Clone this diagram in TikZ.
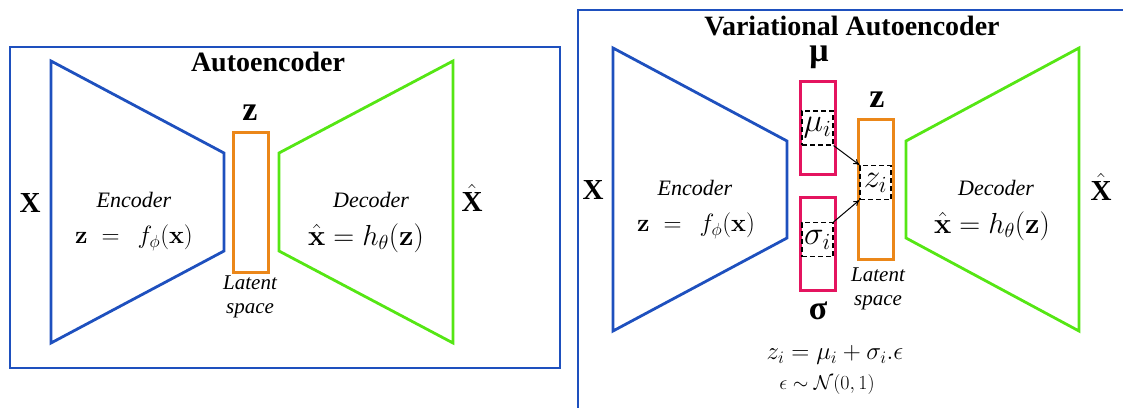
\RequirePackage{fix-cm}
\documentclass[tikz,border=0pt]{standalone}
\usepackage{amsmath}
\usepackage[no-math]{fontspec}
\setmainfont{Liberation Serif}
\usetikzlibrary{arrows.meta}
\definecolor{aeblue}{RGB}{30,80,190}
\definecolor{aegreen}{RGB}{85,230,20}
\definecolor{aeorange}{RGB}{235,135,25}
\definecolor{aepink}{RGB}{228,20,95}
\begin{document}
\begin{tikzpicture}[x=1pt,y=-1pt,
  frame/.style={draw=aeblue,line width=2.8pt},
  encpath/.style={draw=aeblue,line width=2.8pt,line join=miter},
  decpath/.style={draw=aegreen,line width=2.8pt,line join=miter},
  latentbox/.style={draw=aeorange,line width=3pt,minimum width=35pt,minimum height=140pt,inner sep=0pt},
  parambox/.style={draw=aepink,line width=3.2pt,minimum width=35pt,minimum height=93pt,inner sep=0pt},
  dashbox/.style={draw=black,dashed,dash pattern=on 5pt off 3pt,line width=1.1pt,minimum width=31pt,minimum height=34pt,inner sep=0pt,font=\fontsize{33}{35}\selectfont},
  titletext/.style={font=\bfseries\fontsize{28}{30}\selectfont,inner sep=0pt},
  sidelabel/.style={font=\bfseries\fontsize{29}{30}\selectfont,inner sep=0pt},
  greeklabel/.style={font=\bfseries\fontsize{34}{36}\selectfont,inner sep=0pt},
  zlabel/.style={font=\bfseries\fontsize{34}{36}\selectfont,inner sep=0pt},
  itlabel/.style={font=\itshape\fontsize{22}{24}\selectfont,inner sep=0pt},
  latentlabel/.style={font=\itshape\fontsize{21}{24}\selectfont,align=center,inner sep=0pt},
  encformula/.style={font=\fontsize{25}{28}\selectfont,inner sep=0pt},
  decformula/.style={font=\fontsize{29}{31}\selectfont,inner sep=0pt},
  bigformula/.style={font=\fontsize{25}{27}\selectfont,inner sep=0pt},
  smallformula/.style={font=\fontsize{20}{22}\selectfont,inner sep=0pt},
  link/.style={-{To[length=6pt,width=6pt]},line width=1pt}
]
\useasboundingbox (0,0) rectangle (1123,407);

% ---------------- Autoencoder ----------------
\draw[frame] (10,47) rectangle (560,368);
\node[titletext] (tAE) at (268,62) {Autoencoder};
\draw[encpath] (51,61) -- (224,153) -- (224,251) -- (51,343) -- cycle;
\draw[decpath] (279,153) -- (453,61) -- (453,343) -- (279,251) -- cycle;
\node[latentbox] (latA) at (251,202) {};
\node[zlabel] (zA) at (250,113) {z};
\node[sidelabel] (xA) at (30,203) {X};
\node[sidelabel] (xhA) at (472,198) {$\hat{\text{\bfseries X}}$};
\node[itlabel] (encA) at (134,200) {Encoder};
\node[encformula] (fencA) at (134,238) {$\mathbf{z}\;=\;\,f_{\phi}(\mathbf{x})$};
\node[itlabel] (decA) at (371,200) {Decoder};
\node[decformula] (fdecA) at (366,238) {$\hat{\mathbf{x}}=h_{\theta}(\mathbf{z})$};
\node[latentlabel] (lsA) at (250,297) {Latent\\space};

% ---------------- Variational Autoencoder ----------------
\begin{scope}
\clip (0,0) rectangle (1123,407);
\draw[frame] (578,10) rectangle (1140,409);
\end{scope}
\node[titletext] (tVAE) at (852,26) {Variational Autoencoder};
\draw[encpath] (613,48) -- (787,141) -- (787,238) -- (613,331) -- cycle;
\draw[decpath] (906,141) -- (1079,48) -- (1079,331) -- (906,238) -- cycle;
\node[parambox] (muB) at (818,128) {};
\node[parambox] (sgB) at (818,244) {};
\node[latentbox] (latB) at (876,189.5) {};
\node[greeklabel] (muL) at (819,57) {μ};
\node[greeklabel] (sgL) at (818,311) {σ};
\node[zlabel] (zB) at (877,100) {z};
\node[dashbox] (mui) at (817.5,128) {$\mu_i$};
\node[dashbox] (sgi) at (817.5,239.5) {$\sigma_i$};
\node[dashbox] (zi) at (875.5,182.5) {$z_i$};
\draw[link] (mui.south east) -- (zi.north west);
\draw[link] (sgi.north east) -- (zi.south west);
\node[sidelabel] (xB) at (593,190) {X};
\node[sidelabel] (xhB) at (1101,187) {$\hat{\text{\bfseries X}}$};
\node[itlabel] (encB) at (695,188) {Encoder};
\node[encformula] (fencB) at (696,226) {$\mathbf{z}\;=\;\,f_{\phi}(\mathbf{x})$};
\node[itlabel] (decB) at (996,188) {Decoder};
\node[decformula] (fdecB) at (992,226) {$\hat{\mathbf{x}}=h_{\theta}(\mathbf{z})$};
\node[latentlabel] (lsB) at (878,289) {Latent\\space};
\node[bigformula] (eq1) at (835,355) {$z_i=\mu_i+\sigma_i.\epsilon$};
\node[smallformula] (eq2) at (827,384) {$\epsilon\sim\mathcal{N}(0,1)$};
\end{tikzpicture}
\end{document}
